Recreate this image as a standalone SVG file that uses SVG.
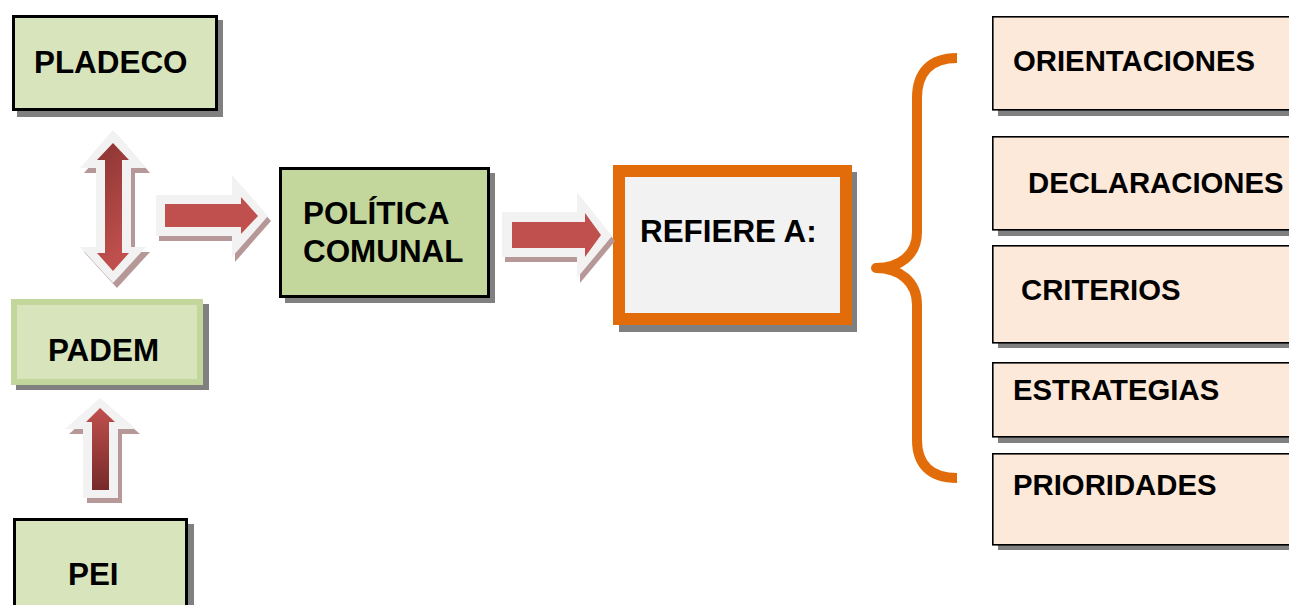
<svg xmlns="http://www.w3.org/2000/svg" width="1289" height="605" viewBox="0 0 1289 605">
<defs>
<style>
text{font-family:"Liberation Sans",Arial,sans-serif;font-weight:bold;fill:#000}
.big{font-size:31.4px}
.sm{font-size:29.3px}
.shadow{fill:#808080}
.green{fill:#d8e4bc;stroke:#000;stroke-width:3}
.peach{fill:#fde9d9;stroke:#000;stroke-width:1.6}
.aout{fill:#f2f2f2}
.ashd{fill:#b79898}
.ared{fill:#c0504d}
</style>
<linearGradient id="gDown" x1="0" y1="0" x2="0.3" y2="1">
<stop offset="0" stop-color="#8a3432"/>
<stop offset="1" stop-color="#c0504d"/>
</linearGradient>
<linearGradient id="gUp" x1="0" y1="0" x2="0" y2="1">
<stop offset="0" stop-color="#c0504d"/>
<stop offset="1" stop-color="#762a29"/>
</linearGradient>
</defs>

<g id="pladeco">
<rect class="shadow" x="17" y="20" width="206" height="97"/>
<rect class="green" x="13.5" y="16.5" width="203" height="93"/>
<text class="big" x="34" y="73">PLADECO</text>
</g>

<g id="padem">
<rect class="shadow" x="16" y="304" width="193" height="86"/>
<rect x="14" y="302" width="186" height="80" fill="#d8e4bc" stroke="#c3d69b" stroke-width="6"/>
<text class="big" x="48" y="361">PADEM</text>
</g>

<g id="pei">
<rect class="shadow" x="19" y="524" width="175" height="90"/>
<rect class="green" x="14.5" y="519.5" width="172" height="100"/>
<text class="big" x="68" y="585">PEI</text>
</g>

<g id="politica">
<rect class="shadow" x="285" y="173" width="210" height="130"/>
<rect x="280.5" y="168.5" width="208" height="128" fill="#c3d69b" stroke="#000" stroke-width="3"/>
<text class="big" x="303" y="224">POLÍTICA</text>
<text class="big" x="303" y="262">COMUNAL</text>
</g>

<g id="refiere">
<rect class="shadow" x="619" y="172" width="238" height="160"/>
<rect x="619" y="171" width="227" height="148" fill="#f2f2f2" stroke="#e36c0a" stroke-width="12"/>
<text class="big" x="640" y="242">REFIERE A:</text>
</g>

<g id="orientaciones">
<rect class="shadow" x="998" y="22" width="300" height="94"/>
<rect class="peach" x="992.8" y="16.8" width="310" height="93"/>
<text class="sm" x="1013" y="71">ORIENTACIONES</text>
</g>
<g id="declaraciones">
<rect class="shadow" x="998" y="142" width="300" height="94"/>
<rect class="peach" x="992.8" y="136.8" width="310" height="93"/>
<text class="sm" x="1028" y="193">DECLARACIONES</text>
</g>
<g id="criterios">
<rect class="shadow" x="998" y="251" width="300" height="97"/>
<rect class="peach" x="992.8" y="245.8" width="310" height="97"/>
<text class="sm" x="1021" y="300">CRITERIOS</text>
</g>
<g id="estrategias">
<rect class="shadow" x="998" y="368" width="300" height="75"/>
<rect class="peach" x="992.8" y="362.8" width="310" height="74"/>
<text class="sm" x="1013" y="400">ESTRATEGIAS</text>
</g>
<g id="prioridades">
<rect class="shadow" x="998" y="459" width="300" height="91"/>
<rect class="peach" x="992.8" y="453.8" width="310" height="91"/>
<text class="sm" x="1013" y="495">PRIORIDADES</text>
</g>

<g id="connectors">
<g id="arrow-pladeco-padem">
<polygon class="ashd" transform="translate(4,5)" points="113,130 146,168 131,168 131,247 146,247 113,283 80,247 96,247 96,168 80,168"/>
<polygon class="aout" points="113,130 146,168 131,168 131,247 146,247 113,283 80,247 96,247 96,168 80,168"/>
<polygon fill="url(#gDown)" points="113,143 129,160 122,160 122,253 129,253 113,271 97,253 105,253 105,160 97,160"/>
</g>
<g id="arrow-to-politica">
<polygon class="ashd" transform="translate(3,5)" points="156,195 232,195 232,175 268,216 232,257 232,236 156,236"/>
<polygon class="aout" points="156,195 232,195 232,175 268,216 232,257 232,236 156,236"/>
<polygon class="ared" points="165,204 241,204 241,197 258,216 241,234 241,227 165,227"/>
</g>
<g id="arrow-to-refiere">
<polygon class="ashd" transform="translate(3,5)" points="502,212 577,212 577,192 612,236 577,278 577,257 502,257"/>
<polygon class="aout" points="502,212 577,212 577,192 612,236 577,278 577,257 502,257"/>
<polygon class="ared" points="512,222 585,222 585,213 601,235 585,257 585,248 512,248"/>
</g>
<g id="arrow-pei-padem">
<polygon class="ashd" transform="translate(4,5)" points="100,398 136,429 118,429 118,498 83,498 83,429 65,429"/>
<polygon class="aout" points="100,398 136,429 118,429 118,498 83,498 83,429 65,429"/>
<polygon fill="url(#gUp)" points="100,408 115,422 109,422 109,490 92,490 92,422 86,422"/>
</g>
<path id="brace" d="M957,58 C931,58 917,72 917,98 L917,232 C917,255 900,268 876,268 C900,268 917,282 917,305 L917,440 C917,465 931,478 957,478" fill="none" stroke="#e36c0a" stroke-width="10" stroke-linejoin="round"/>
</g>
</svg>
